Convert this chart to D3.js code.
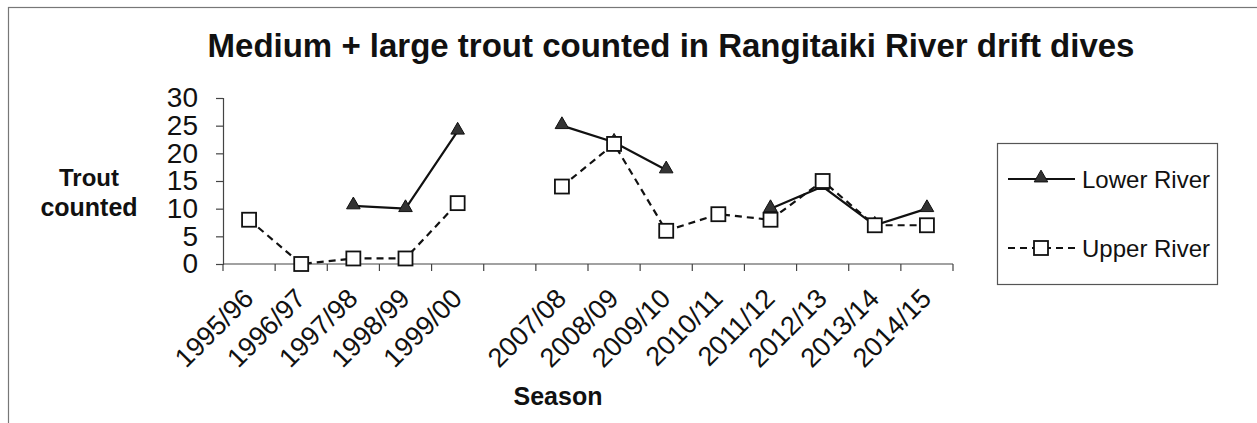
<!DOCTYPE html>
<html>
<head>
<meta charset="utf-8">
<script src="https://cdn.jsdelivr.net/npm/d3@7"></script>
<style>
  body { margin: 0; background: #fff; }
  svg { display: block; font-family: "Liberation Sans", Arial, sans-serif; }
</style>
</head>
<body>
<svg id="chart" width="1257" height="423"></svg>
<script>
// seasons ("" is the empty gap slot between 1999/00 and 2007/08)
const seasons = ['1995/96','1996/97','1997/98','1998/99','1999/00','',
  '2007/08','2008/09','2009/10','2010/11','2011/12','2012/13','2013/14','2014/15'];

const lowerRiver = [null, null, 10.5, 10, 24, null, 25, 22, 17, null, 10, 14, 7, 10];
const upperRiver = [8, 0, 1, 1, 11, null, 14, 21.7, 6, 9, 8, 15, 7, 7];

const yTicks = [0, 5, 10, 15, 20, 25, 30];

const svg = d3.select('#chart');

// outer frame (runs off the bottom and right of the crop)
svg.append('rect')
  .attr('x', 8.5).attr('y', 7.5)
  .attr('width', 1270).attr('height', 500)
  .attr('fill', 'none').attr('stroke', '#777').attr('stroke-width', 1.2);

const plot = {left: 223, right: 953, top: 98, bottom: 264};

const x = d3.scaleBand()
  .domain(d3.range(seasons.length))
  .range([plot.left, plot.right]);

const y = d3.scaleLinear()
  .domain([0, 30])
  .range([plot.bottom, plot.top]);

// title
svg.append('text')
  .attr('x', 671).attr('y', 57)
  .attr('text-anchor', 'middle')
  .attr('font-size', 33).attr('font-weight', 'bold')
  .attr('fill', '#111')
  .text('Medium + large trout counted in Rangitaiki River drift dives');

// y axis
const yAxis = d3.axisLeft(y).tickValues(yTicks).tickSize(7).tickPadding(18);
const gy = svg.append('g')
  .attr('transform', `translate(${plot.left},0)`)
  .call(yAxis);
gy.select('.domain').attr('stroke', '#444').attr('stroke-width', 1.2);
gy.selectAll('.tick line').attr('stroke', '#444').attr('stroke-width', 1.2);
gy.selectAll('.tick text')
  .attr('font-size', 28).attr('fill', '#111')
  .attr('font-family', '"Liberation Sans", Arial, sans-serif');

// x axis: ticks between categories
const gx = svg.append('g').attr('transform', `translate(0,${plot.bottom})`);
gx.append('line')
  .attr('x1', plot.left).attr('x2', plot.right)
  .attr('stroke', '#444').attr('stroke-width', 1.2);
gx.selectAll('line.tk')
  .data(d3.range(seasons.length + 1))
  .enter().append('line')
  .attr('class', 'tk')
  .attr('x1', i => plot.left + i * x.step())
  .attr('x2', i => plot.left + i * x.step())
  .attr('y1', 0).attr('y2', 7)
  .attr('stroke', '#444').attr('stroke-width', 1.2);

gx.selectAll('text')
  .data(seasons)
  .enter().append('text')
  .attr('transform', (d, i) => `translate(${x(i) + x.bandwidth() / 2 + 6},36) rotate(-45)`)
  .attr('text-anchor', 'end')
  .attr('font-size', 27).attr('fill', '#111')
  .text(d => d);

// axis titles
svg.append('text')
  .attr('x', 89).attr('y', 186)
  .attr('text-anchor', 'middle')
  .attr('font-size', 24).attr('font-weight', 'bold').attr('fill', '#111')
  .text('Trout');
svg.append('text')
  .attr('x', 89).attr('y', 216)
  .attr('text-anchor', 'middle')
  .attr('font-size', 25).attr('font-weight', 'bold').attr('fill', '#111')
  .text('counted');
svg.append('text')
  .attr('x', 558).attr('y', 405)
  .attr('text-anchor', 'middle')
  .attr('font-size', 25).attr('font-weight', 'bold').attr('fill', '#111')
  .text('Season');

const cx = i => x(i) + x.bandwidth() / 2;

const line = d3.line()
  .defined(d => d != null)
  .x((d, i) => cx(i))
  .y(d => y(d));

// upper river (dashed, squares)
svg.append('path')
  .datum(upperRiver)
  .attr('d', line)
  .attr('fill', 'none').attr('stroke', '#111')
  .attr('stroke-width', 2.2).attr('stroke-dasharray', '7,5');

// lower river (solid, triangles)
svg.append('path')
  .datum(lowerRiver)
  .attr('d', line)
  .attr('fill', 'none').attr('stroke', '#111')
  .attr('stroke-width', 2.2);

const tri = d3.symbol().type(d3.symbolTriangle).size(80);

svg.append('g').selectAll('path')
  .data(lowerRiver.map((v, i) => ({v, i})).filter(d => d.v != null))
  .enter().append('path')
  .attr('d', tri)
  .attr('transform', d => `translate(${cx(d.i)},${y(d.v) - 1})`)
  .attr('fill', '#333').attr('stroke', '#111').attr('stroke-width', 1);

svg.append('g').selectAll('rect')
  .data(upperRiver.map((v, i) => ({v, i})).filter(d => d.v != null))
  .enter().append('rect')
  .attr('x', d => cx(d.i) - 7).attr('y', d => y(d.v) - 7)
  .attr('width', 14).attr('height', 14)
  .attr('fill', '#fff').attr('stroke', '#111').attr('stroke-width', 1.8);

// legend
const leg = svg.append('g');
leg.append('rect')
  .attr('x', 997.5).attr('y', 143.5)
  .attr('width', 220).attr('height', 141)
  .attr('fill', 'none').attr('stroke', '#555').attr('stroke-width', 1.2);

const legItems = [
  {name: 'Lower River', y: 179, dash: null, marker: 'tri'},
  {name: 'Upper River', y: 248, dash: '7,5', marker: 'sq'}
];
legItems.forEach(it => {
  leg.append('line')
    .attr('x1', 1008).attr('x2', 1075)
    .attr('y1', it.y).attr('y2', it.y)
    .attr('stroke', '#111').attr('stroke-width', 2.2)
    .attr('stroke-dasharray', it.dash);
  if (it.marker === 'tri') {
    leg.append('path')
      .attr('d', tri)
      .attr('transform', `translate(1041,${it.y - 1})`)
      .attr('fill', '#333').attr('stroke', '#111').attr('stroke-width', 1);
  } else {
    leg.append('rect')
      .attr('x', 1034).attr('y', it.y - 7)
      .attr('width', 14).attr('height', 14)
      .attr('fill', '#fff').attr('stroke', '#111').attr('stroke-width', 1.8);
  }
  leg.append('text')
    .attr('x', 1082).attr('y', it.y + 9)
    .attr('font-size', 24).attr('fill', '#111')
    .text(it.name);
});
</script>
</body>
</html>
